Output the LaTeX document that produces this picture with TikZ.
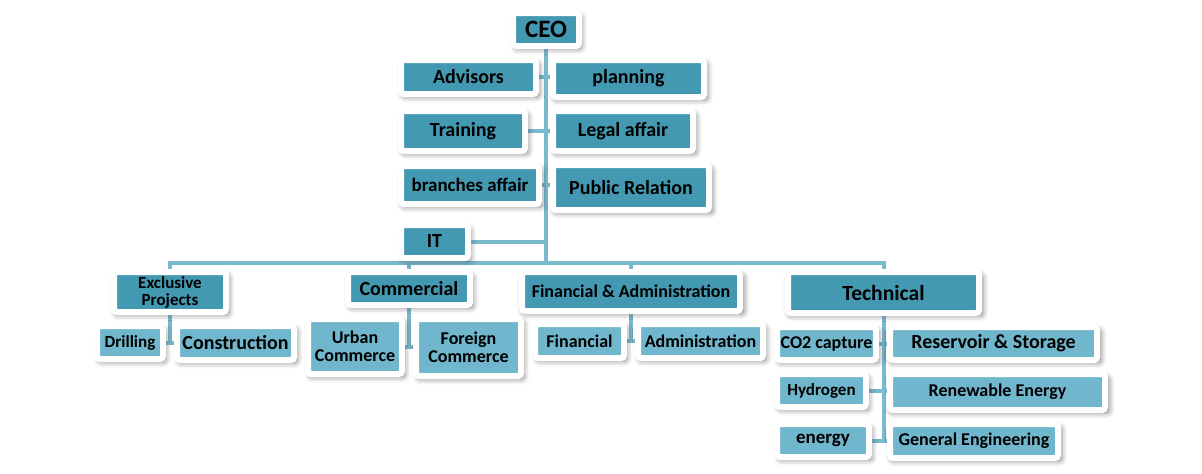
\documentclass[tikz,border=0pt]{standalone}
\usepackage{fontspec}
\setmainfont{Carlito}
\usetikzlibrary{shadows.blur,backgrounds}
\definecolor{deepteal}{RGB}{67,153,178}
\definecolor{paleteal}{RGB}{112,182,204}
\definecolor{linkblue}{RGB}{122,186,206}
\newcommand{\fz}[1]{\fontsize{#1}{#1}\selectfont\bfseries}

\begin{document}
\begin{tikzpicture}[x=0.5pt, y=-0.5pt,
  box/.style={draw=white, line width=3pt, rounded corners=1.5pt, inner sep=0pt, align=center,
    blur shadow={shadow xshift=1.2pt, shadow yshift=-1.5pt, shadow blur radius=2.5pt,
      shadow blur extra rounding=1.5pt, shadow opacity=45, shadow scale=1.02}},
  head/.style={box, fill=deepteal},
  sub/.style={box, fill=paleteal},
  link/.style={linkblue, line width=2pt}]
  \useasboundingbox (0,0) rectangle (1202,473);
  % top: CEO and staff units
  \node[head, minimum width=33pt, minimum height=16.5pt, font=\fz{12.5}] (ceo) at (546,29.5) {CEO};
  \node[head, minimum width=67.5pt, minimum height=17pt, font=\fz{10}] (adv) at (468.5,77) {Advisors};
  \node[head, minimum width=75.5pt, minimum height=18.5pt, font=\fz{10}] (plan) at (628.5,78.5) {planning};
  \node[head, minimum width=62pt, minimum height=20pt, font=\fz{10}] (train) at (463,131) {Training};
  \node[head, minimum width=70pt, minimum height=20pt, font=\fz{10}] (legal) at (623,131) {Legal affair};
  \node[head, minimum width=69pt, minimum height=19pt, font=\fz{9.5}] (branch) at (470,185) {branches affair};
  \node[head, minimum width=78pt, minimum height=22.5pt, font=\fz{10}] (pr) at (631,187.5) {Public Relation};
  \node[head, minimum width=33.5pt, minimum height=16.5pt, font=\fz{10}] (it) at (434.5,241.5) {IT};
  % departments
  \node[head, minimum width=56pt, minimum height=20pt, font=\fz{8.5}] (excl) at (170,292) {Exclusive\\Projects};
  \node[head, minimum width=61pt, minimum height=16.5pt, font=\fz{10}] (comm) at (409,288.5) {Commercial};
  \node[head, minimum width=109pt, minimum height=19.5pt, font=\fz{9}] (fin) at (631,291.5) {Financial \& Administration};
  \node[head, minimum width=95.5pt, minimum height=20.5pt, font=\fz{10.8}] (tech) at (883.5,292.5) {Technical};
  % sections
  \node[sub, minimum width=33pt, minimum height=16.5pt, font=\fz{8.5}] (drill) at (130,342.5) {Drilling};
  \node[sub, minimum width=58.5pt, minimum height=17pt, font=\fz{10}] (cons) at (235.5,343) {Construction};
  \node[sub, minimum width=47pt, minimum height=27.5pt, font=\fz{9}] (urban) at (355,346.5) {Urban\\Commerce};
  \node[sub, minimum width=52.5pt, minimum height=28.5pt, font=\fz{9}] (foreign) at (468.5,347.5) {Foreign\\Commerce};
  \node[sub, minimum width=44.5pt, minimum height=17pt, font=\fz{9}] (fina) at (579.5,341) {Financial};
  \node[sub, minimum width=62.5pt, minimum height=17pt, font=\fz{9}] (admin) at (700.5,341) {Administration};
  \node[sub, minimum width=49.5pt, minimum height=16.5pt, font=\fz{9}] (co2) at (826.5,343.5) {CO2 capture};
  \node[sub, minimum width=103.5pt, minimum height=16.5pt, font=\fz{10}] (res) at (993.5,343.5) {Reservoir \& Storage};
  \node[sub, minimum width=44.5pt, minimum height=16.5pt, font=\fz{8.5}] (hyd) at (821.5,390.5) {Hydrogen};
  \node[sub, minimum width=107.5pt, minimum height=18pt, font=\fz{9}] (ren) at (997.5,392) {Renewable Energy};
  \node[sub, minimum width=46pt, minimum height=16.5pt, font=\fz{9.5}] (energy) at (823,440.5) {energy};
  \node[sub, minimum width=84pt, minimum height=17pt, font=\fz{9}] (gen) at (974,441) {General Engineering};
  % connectors behind the boxes
  \begin{scope}[on background layer]
    \coordinate (bus) at (546,263);
    \draw[link] (ceo) -- (bus);
    \draw[link] (adv) -- (adv -| plan);
    \draw[link] (train) -- (train -| legal);
    \draw[link] (branch) -- (branch -| pr);
    \draw[link] (it) -- (it -| ceo);
    \draw[link] (excl) -- (excl |- bus) -| (tech);
    \draw[link] (comm) -- (comm |- bus);
    \draw[link] (fin) -- (fin |- bus);
    \draw[link] (excl) -- (excl |- drill);
    \draw[link] (drill) -- (drill -| cons);
    \draw[link] (comm) -- (comm |- urban);
    \draw[link] (urban) -- (urban -| foreign);
    \draw[link] (fin) -- (fin |- fina);
    \draw[link] (fina) -- (fina -| admin);
    \draw[link] (tech) -- (tech |- energy);
    \draw[link] (co2) -- (co2 -| res);
    \draw[link] (hyd) -- (hyd -| ren);
    \draw[link] (energy) -- (energy -| gen);
  \end{scope}
\end{tikzpicture}
\end{document}
